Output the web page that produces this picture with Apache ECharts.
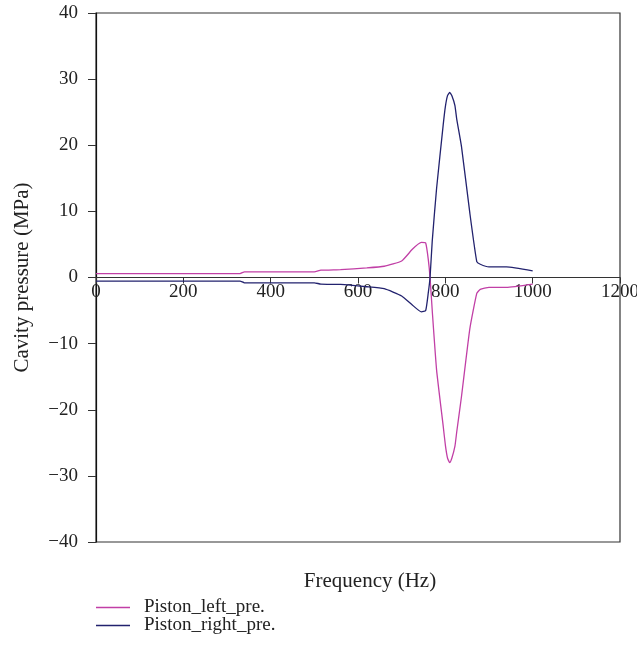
<!DOCTYPE html>
<html>
<head>
<meta charset="utf-8">
<script src="https://cdn.jsdelivr.net/npm/echarts@6/dist/echarts.min.js"></script>
<style>
  html, body { margin: 0; padding: 0; background: #fff; overflow: hidden; }
  #chart { width: 637px; height: 654px; }
</style>
</head>
<body>
<div id="chart"></div>
<script>
// Frequency sweep (Hz) shared by both pressure traces
const frequency = [0, 330, 340, 500, 515, 560, 620, 660, 700, 725, 745, 755, 761, 765, 770, 780, 795, 800, 805, 810, 815, 822, 826, 837, 856, 872, 880, 900, 940, 1000];
// Cavity pressure on the left piston side (MPa)
const pistonLeft = [0.6, 0.6, 0.85, 0.85, 1.1, 1.2, 1.45, 1.7, 2.5, 4.3, 5.3, 5.2, 2.7, 0, -5, -14, -22.4, -25.3, -27.3, -28, -27.3, -25.5, -23.4, -18, -7.8, -2.4, -1.8, -1.5, -1.5, -1.0];
// Cavity pressure on the right piston side (MPa)
const pistonRight = [-0.55, -0.55, -0.8, -0.8, -1.0, -1.05, -1.4, -1.7, -2.8, -4.2, -5.2, -5.0, -2.3, 0, 5.5, 13.5, 23, 25.8, 27.5, 28, 27.5, 26, 24, 19.8, 9.8, 2.4, 2.0, 1.6, 1.6, 1.0];

const xTicks = [0, 200, 400, 600, 800, 1000, 1200];
const yTicks = [-40, -30, -20, -10, 0, 10, 20, 30, 40];

const seriesNames = ['Piston_left_pre.', 'Piston_right_pre.'];
const colors = ['#c13fa6', '#22226e'];

const font = 'Liberation Serif';
const ink = '#222';

const gridTop = 13;
const gridBottom = 112;
const chartHeight = 654;
// the frequency axis runs through zero pressure, i.e. the middle of the plot
const plotHeight = chartHeight - gridTop - gridBottom;
const zeroOffset = -plotHeight * (0 - yTicks[0]) / (yTicks[yTicks.length - 1] - yTicks[0]);

const pairs = (ys) => frequency.map((f, i) => [f, ys[i]]);

// one legend row per series, stacked below the axis title
const legendRow = (name, top) => ({
  left: 96, top: top,
  padding: 0,
  icon: 'rect',
  itemWidth: 34, itemHeight: 1.3,
  data: [name],
  textStyle: { fontFamily: font, fontSize: 19, color: ink, padding: [0, 0, 0, 9] }
});

const chart = echarts.init(document.getElementById('chart'));
chart.setOption({
  animation: false,
  color: colors,
  textStyle: { fontFamily: font, color: ink },
  grid: {
    left: 96, right: 17, top: gridTop, bottom: gridBottom,
    outerBoundsMode: 'none',
    containLabel: false,
    show: true, borderColor: '#333', borderWidth: 1.2
  },
  title: {
    text: 'Frequency (Hz)',
    left: 365, top: 566, textAlign: 'center',
    textStyle: { fontFamily: font, fontSize: 21, fontWeight: 'normal', color: ink }
  },
  legend: [legendRow(seriesNames[0], 598), legendRow(seriesNames[1], 616)],
  xAxis: {
    type: 'value',
    position: 'bottom',
    offset: zeroOffset,
    min: xTicks[0], max: xTicks[xTicks.length - 1], interval: 200,
    axisLine: { onZero: false, lineStyle: { color: '#333', width: 1.2 } },
    axisTick: { show: true, inside: false, length: 6, lineStyle: { color: '#333' } },
    axisLabel: { fontFamily: font, fontSize: 19, color: ink, margin: 5, formatter: (v) => String(v) },
    splitLine: { show: false }
  },
  yAxis: {
    type: 'value',
    min: yTicks[0], max: yTicks[yTicks.length - 1], interval: 10,
    name: 'Cavity pressure (MPa)',
    nameLocation: 'middle',
    nameGap: 63,
    nameTextStyle: { fontFamily: font, fontSize: 21, color: ink },
    axisLine: { show: true, onZero: false, lineStyle: { color: '#111', width: 1.2 } },
    axisTick: { show: true, inside: false, length: 8, lineStyle: { color: '#333' } },
    axisLabel: {
      fontFamily: font, fontSize: 19, color: ink, margin: 18,
      formatter: (v) => (v < 0 ? '\u2212' + Math.abs(v) : String(v))
    },
    splitLine: { show: false }
  },
  series: [
    {
      name: seriesNames[0], type: 'line', data: pairs(pistonLeft),
      showSymbol: false, smooth: 0.15,
      lineStyle: { width: 1.3, color: colors[0] }
    },
    {
      name: seriesNames[1], type: 'line', data: pairs(pistonRight),
      showSymbol: false, smooth: 0.15,
      lineStyle: { width: 1.3, color: colors[1] }
    }
  ]
});
</script>
</body>
</html>
